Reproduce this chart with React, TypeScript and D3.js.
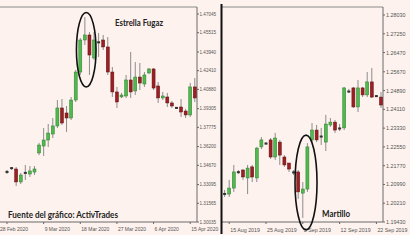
import React from "react";
import * as d3 from "d3";

// ---------- Left chart (USD/CAD, daily, 28 Feb 2020 – 16 Apr 2020) ----------
const leftOpen = [1.3412, 1.3445, 1.3437, 1.3331, 1.3404, 1.3396, 1.3412, 1.3568, 1.3625, 1.3674, 1.3723, 1.3789, 1.3936, 1.3895, 1.3854, 1.4001, 1.4230, 1.4492, 1.4533, 1.4345, 1.4476, 1.4492, 1.4435, 1.4230, 1.4067, 1.4026, 1.4034, 1.4165, 1.4075, 1.4189, 1.4132, 1.4222, 1.4255, 1.4116, 1.4018, 1.4026, 1.3977, 1.3936, 1.3944, 1.3911, 1.3879, 1.4108];
const leftHigh = [1.3429, 1.3453, 1.3453, 1.3404, 1.3470, 1.3461, 1.3461, 1.3650, 1.3772, 1.3805, 1.3854, 1.4001, 1.4009, 1.3952, 1.4026, 1.4247, 1.4508, 1.4680, 1.4557, 1.4557, 1.4549, 1.4533, 1.4516, 1.4271, 1.4108, 1.4059, 1.4206, 1.4394, 1.4312, 1.4304, 1.4230, 1.4263, 1.4263, 1.4148, 1.4067, 1.4059, 1.3993, 1.3944, 1.4009, 1.3928, 1.4140, 1.4181];
const leftLow = [1.3396, 1.3429, 1.3298, 1.3314, 1.3347, 1.3372, 1.3388, 1.3551, 1.3543, 1.3617, 1.3690, 1.3772, 1.3797, 1.3740, 1.3838, 1.3985, 1.4206, 1.4451, 1.4206, 1.4328, 1.4353, 1.4410, 1.4206, 1.4026, 1.3936, 1.4018, 1.4018, 1.4018, 1.4042, 1.4083, 1.4108, 1.4214, 1.4083, 1.3977, 1.4001, 1.3944, 1.3936, 1.3928, 1.3862, 1.3854, 1.3862, 1.3985];
const leftClose = [1.3414, 1.3443, 1.3331, 1.3388, 1.3406, 1.3421, 1.3437, 1.3633, 1.3674, 1.3731, 1.3789, 1.3936, 1.3813, 1.3854, 1.4001, 1.4230, 1.4492, 1.4533, 1.4369, 1.4492, 1.4470, 1.4435, 1.4230, 1.4067, 1.3985, 1.4042, 1.4165, 1.4067, 1.4189, 1.4140, 1.4206, 1.4255, 1.4099, 1.4018, 1.4034, 1.3977, 1.3952, 1.3937, 1.3903, 1.3879, 1.4108, 1.4018];
const leftDateLabels = ["28 Feb 2020", "9 Mar 2020", "18 Mar 2020", "27 Mar 2020", "6 Apr 2020", "15 Apr 2020"];
const leftDateIndex = [0, 8, 16, 24, 32, 40];
const leftPriceTicks = [1.47045, 1.45515, 1.4394, 1.4241, 1.4088, 1.39305, 1.37775, 1.362, 1.3467, 1.33095, 1.31565, 1.30035];

// ---------- Right chart (GBP/USD, daily, 14 Aug 2019 – 23 Sep 2019) ----------
const rightOpen = [1.2059, 1.2059, 1.2084, 1.2151, 1.2159, 1.2126, 1.2172, 1.2126, 1.2255, 1.2267, 1.2284, 1.2213, 1.2275, 1.2213, 1.2188, 1.2151, 1.2151, 1.2063, 1.2080, 1.2284, 1.2325, 1.2300, 1.2275, 1.2346, 1.2358, 1.2334, 1.2334, 1.2487, 1.2500, 1.2421, 1.2500, 1.2471, 1.2525, 1.2467, 1.2462];
const rightHigh = [1.2076, 1.2118, 1.2180, 1.2159, 1.2163, 1.2180, 1.2180, 1.2255, 1.2296, 1.2275, 1.2292, 1.2313, 1.2284, 1.2221, 1.2188, 1.2159, 1.2159, 1.2109, 1.2271, 1.2354, 1.2346, 1.2334, 1.2388, 1.2375, 1.2367, 1.2350, 1.2504, 1.2496, 1.2504, 1.2533, 1.2504, 1.2566, 1.2583, 1.2471, 1.2483];
const rightLow = [1.2047, 1.2047, 1.2068, 1.2142, 1.2118, 1.2059, 1.2109, 1.2109, 1.2246, 1.2263, 1.2205, 1.2201, 1.2180, 1.2172, 1.2151, 1.2138, 1.2039, 1.1960, 1.2068, 1.2275, 1.2275, 1.2263, 1.2238, 1.2338, 1.2313, 1.2321, 1.2325, 1.2479, 1.2417, 1.2400, 1.2462, 1.2462, 1.2458, 1.2462, 1.2417];
const rightClose = [1.2060, 1.2084, 1.2151, 1.2149, 1.2130, 1.2167, 1.2130, 1.2250, 1.2284, 1.2271, 1.2213, 1.2292, 1.2221, 1.2180, 1.2163, 1.2147, 1.2068, 1.2080, 1.2255, 1.2325, 1.2284, 1.2296, 1.2350, 1.2358, 1.2325, 1.2329, 1.2500, 1.2483, 1.2421, 1.2500, 1.2471, 1.2525, 1.2462, 1.2465, 1.2429];
const rightDateLabels = ["15 Aug 2019", "25 Aug 2019", "3 Sep 2019", "12 Sep 2019", "22 Sep 2019"];
const rightDateIndex = [1, 9, 17, 25, 33];
const rightPriceTicks = [1.2803, 1.2725, 1.2647, 1.2567, 1.2489, 1.2411, 1.2333, 1.2255, 1.2177, 1.2099, 1.2021, 1.1943];

// annotations (index / price space)
const starIndex = 17.3;
const starPriceSpan = [1.4108, 1.4717];
const hammerIndex = 17.7;
const hammerPriceSpan = [1.1910, 1.2304];

const GREEN = "#4fb84f";
const GREEN_EDGE = "#2f7d2f";
const RED = "#9c1f24";
const RED_EDGE = "#5e0f12";
const WICK = "#8c8c8c";
const BG = "#fdf2ed";

type CandleProps = {
  open: number[]; high: number[]; low: number[]; close: number[];
  x: d3.ScaleLinear<number, number>; y: d3.ScaleLinear<number, number>;
};

function Candles({ open, high, low, close, x, y }: CandleProps) {
  const bw = 3;
  return (
    <g>
      {open.map((o, i) => (
        <line key={"w" + i} x1={x(i)} x2={x(i)} y1={y(high[i])} y2={y(low[i])} stroke={WICK} strokeWidth={1} />
      ))}
      {open.map((o, i) => {
        const c = close[i];
        const top = y(Math.max(o, c));
        const bot = y(Math.min(o, c));
        const h = bot - top;
        const doji = h < 1.6;
        const up = c >= o;
        if (doji) {
          return (
            <rect key={"b" + i} x={x(i) - 1.5} y={(top + bot) / 2 - 1} width={3} height={2}
              fill="#333" />
          );
        }
        return (
          <rect key={"b" + i} x={x(i) - bw / 2} y={top} width={bw} height={h}
            fill={up ? GREEN : RED} stroke={up ? GREEN_EDGE : RED_EDGE} strokeWidth={0.5} />
        );
      })}
    </g>
  );
}

export default function App() {
  const xL = d3.scaleLinear().domain([0, 41]).range([7, 194.8]);
  const yL = d3.scaleLinear().domain([1.30035, 1.47045]).range([222, 14]);
  const xR = d3.scaleLinear().domain([0, 34]).range([224.6, 381]);
  const yR = d3.scaleLinear().domain([1.1943, 1.2803]).range([222, 15]);

  const fmtL = d3.format(".5f");
  const font = "'Liberation Sans', Arial, sans-serif";
  const noteFont = "Lato, 'Open Sans', sans-serif";

  const lTop = yL(starPriceSpan[1]);
  const lBot = yL(starPriceSpan[0]);
  const rTop = yR(hammerPriceSpan[1]);
  const rBot = yR(hammerPriceSpan[0]);

  return (
    <svg width={420} height={244} style={{ position: "absolute", left: 0, top: 0, display: "block" }}>
      <rect x={0} y={0} width={420} height={244} fill="#ffffff" />
      <rect x={0} y={0} width={410} height={235} fill={BG} />

      {/* ---------- Left panel ---------- */}
      <g>
        <line x1={0} x2={197} y1={7} y2={7} stroke="#8a8a8a" strokeWidth={1} />
        <line x1={197} x2={197} y1={7} y2={222} stroke="#6a6a6a" strokeWidth={1} />
        <line x1={0} x2={197} y1={222} y2={222} stroke="#6a6a6a" strokeWidth={1} />
        {leftPriceTicks.map((t, i) => (
          <g key={"lt" + i}>
            <line x1={197} x2={199} y1={yL(t)} y2={yL(t)} stroke="#666" />
            <text x={199.5} y={yL(t) + 1.7} fontSize={4.6} fill="#555" fontFamily={font}>{fmtL(t)}</text>
          </g>
        ))}
        {leftDateLabels.map((d, i) => (
          <g key={"ld" + i}>
            <line x1={xL(leftDateIndex[i])} x2={xL(leftDateIndex[i])} y1={222} y2={224} stroke="#666" />
            <text x={xL(leftDateIndex[i]) + (i === 0 ? -7 : 1)} y={231} fontSize={5} fill="#555" fontFamily={font}>{d}</text>
          </g>
        ))}
        <Candles open={leftOpen} high={leftHigh} low={leftLow} close={leftClose} x={xL} y={yL} />
        <ellipse cx={xL(starIndex)} cy={(lTop + lBot) / 2} rx={9.8} ry={(lBot - lTop) / 2}
          fill="none" stroke="#111" strokeWidth={1.6} />
        <text x={115} y={26} fontSize={8.5} fontWeight="bold" fill="#222" fontFamily={noteFont}
          textLength={48} lengthAdjust="spacingAndGlyphs">Estrella Fugaz</text>
        <text x={8} y={218} fontSize={9} fontWeight="bold" fill="#222" fontFamily={noteFont}
          textLength={110} lengthAdjust="spacingAndGlyphs">Fuente del gráfico: ActivTrades</text>
      </g>

      {/* ---------- Right panel ---------- */}
      <g>
        <rect x={221} y={0} width={189} height={235} fill={BG} />
        <line x1={221} x2={383} y1={7} y2={7} stroke="#8a8a8a" strokeWidth={1} />
        <line x1={383} x2={383} y1={7} y2={222} stroke="#6a6a6a" strokeWidth={1} />
        <line x1={221} x2={383} y1={222} y2={222} stroke="#6a6a6a" strokeWidth={1} />
        <line x1={221.5} x2={221.5} y1={4} y2={234} stroke="#111" strokeWidth={2} />
        {rightPriceTicks.map((t, i) => (
          <g key={"rt" + i}>
            <line x1={383} x2={385} y1={yR(t)} y2={yR(t)} stroke="#666" />
            <text x={386} y={yR(t) + 2} fontSize={5.4} fill="#555" fontFamily={font}>{fmtL(t)}</text>
          </g>
        ))}
        {rightDateLabels.map((d, i) => (
          <g key={"rd" + i}>
            <line x1={xR(rightDateIndex[i])} x2={xR(rightDateIndex[i])} y1={222} y2={224} stroke="#666" />
            <text x={xR(rightDateIndex[i]) + 1} y={232} fontSize={5.3} fill="#555" fontFamily={font}>{d}</text>
          </g>
        ))}
        <Candles open={rightOpen} high={rightHigh} low={rightLow} close={rightClose} x={xR} y={yR} />
        <ellipse cx={xR(hammerIndex)} cy={(rTop + rBot) / 2} rx={11} ry={(rBot - rTop) / 2}
          fill="none" stroke="#111" strokeWidth={1.6} />
        <text x={322} y={217} fontSize={8.5} fontWeight="bold" fill="#222" fontFamily={noteFont}
          textLength={28} lengthAdjust="spacingAndGlyphs">Martillo</text>
      </g>
    </svg>
  );
}
